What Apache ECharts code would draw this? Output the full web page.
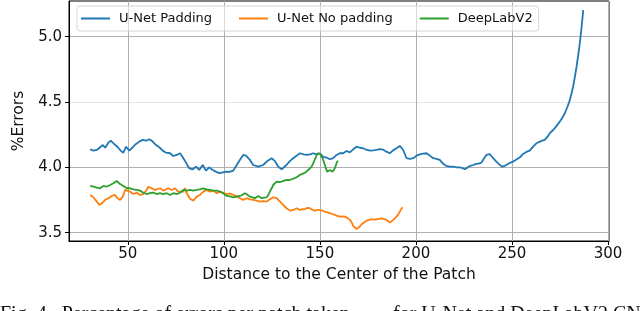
<!DOCTYPE html>
<html><head><meta charset="utf-8">
<script src="https://cdn.jsdelivr.net/npm/echarts@6/dist/echarts.min.js"></script>
<style>html,body{margin:0;padding:0;background:#fff}#c{width:640px;height:311px}</style>
</head><body><div id="c"></div>
<script>
const xTicks = [50, 100, 150, 200, 250, 300];
const yTicks = [3.5, 4.0, 4.5, 5.0];
const seriesNames = ['U-Net Padding', 'U-Net No padding', 'DeepLabV2'];
const xTitle = 'Distance to the Center of the Patch';
const yTitle = '%Errors';

const padX = [30.4,32.1,33.9,35.6,37.0,38.2,39.9,41.1,42.9,44.6,46.3,47.7,49.1,50.8,52.6,54.3,56.0,57.8,59.5,61.2,63.0,64.7,66.4,68.2,69.9,72.0,73.7,75.5,77.2,78.6,80.3,82.0,83.8,85.5,87.2,89.0,90.7,92.4,94.2,95.9,97.6,99.5,101.3,103,104.9,106.7,108.5,110.1,111.5,113.6,115.3,117.9,120.5,122.3,124.9,126.5,128.3,130.1,132.7,134.5,136.1,138,139.6,141.5,143.1,145,146.5,148.2,150,151.7,153.5,155.2,156.9,158.7,160.4,162.1,163.9,165.6,167.5,169.1,170.8,172.5,174.2,176.0,177.8,179.5,181.2,183,184.7,186.4,188.1,189.9,191.6,193.4,195.1,196.9,198.6,200.3,202.0,203.8,205.5,207.2,209.0,210.7,212.4,214,215.7,217.5,219.4,221,222.8,224.2,225.4,226.8,228.0,229.8,231.5,233,234.1,235.5,236.7,238.4,240.2,241.5,242.8,244,245.1,246.3,247.1,249,250.6,252.3,254.0,255.5,257.5,259.2,261.0,262.7,264.5,265.8,267.0,268.5,269.6,271,272.3,273.6,274.9,276.2,277.5,278.8,280.1,281.0,281.8,282.7,283.6,284.5,285.3,286.2,287.1];
const padY = [4.138,4.128,4.133,4.154,4.171,4.150,4.189,4.204,4.179,4.158,4.128,4.112,4.158,4.128,4.154,4.179,4.197,4.21,4.204,4.215,4.197,4.171,4.154,4.128,4.112,4.108,4.087,4.095,4.108,4.077,4.036,3.993,3.985,4.005,3.98,4.018,3.975,4.0,3.98,3.967,3.955,3.962,3.967,3.965,3.975,4.018,4.06,4.095,4.09,4.057,4.018,4.005,4.018,4.044,4.07,4.05,4.005,3.985,4.02,4.05,4.07,4.09,4.108,4.1,4.095,4.1,4.108,4.1,4.108,4.08,4.075,4.062,4.07,4.095,4.108,4.108,4.125,4.115,4.14,4.158,4.15,4.146,4.135,4.128,4.13,4.133,4.14,4.135,4.12,4.108,4.13,4.146,4.164,4.133,4.07,4.065,4.07,4.09,4.1,4.105,4.108,4.09,4.07,4.065,4.057,4.03,4.012,4.005,4.005,4.0,4.0,3.995,3.985,3.998,4.01,4.018,4.026,4.03,4.036,4.07,4.095,4.102,4.07,4.05,4.031,4.015,4.005,4.012,4.026,4.035,4.044,4.06,4.075,4.1,4.118,4.128,4.158,4.184,4.197,4.205,4.21,4.235,4.26,4.28,4.30,4.325,4.35,4.38,4.414,4.46,4.516,4.565,4.617,4.69,4.77,4.86,4.95,5.07,5.204];

const noPadX = [30.4,32.1,33.9,34.7,35.2,36.5,38.2,39.9,41.7,43.4,44.6,46.0,47.4,48.6,49.5,51.2,52.9,54.7,56.3,58.1,59.5,60.7,62.5,64.2,66.8,68.5,71.1,72.9,74.6,76.3,78.9,79.8,80.7,82.4,84.1,85.9,87.6,89.3,91.1,92.8,94.5,96.3,98.0,99.8,101.5,103.2,104.9,106.6,108.4,110.1,111.9,113.6,115.3,117.0,118.8,120.5,122.3,124.0,125.7,127.5,129.2,130.9,132.7,134.4,136.1,137.9,139.6,141.0,142.2,143.5,144.8,146.1,147.4,148.7,150.0,151.3,152.6,153.9,155.2,156.5,157.8,159.1,160.4,161.7,163.0,164.3,165.6,166.5,167.4,168.3,169.1,170.0,170.8,171.7,172.5,174.3,175.6,176.9,178.2,179.5,180.8,182.1,183.4,184.7,185.6,186.4,187.3,188.2,189.0,189.9,190.8,191.6,192.3,193.0];
const noPadY = [3.789,3.771,3.738,3.725,3.712,3.725,3.751,3.764,3.781,3.789,3.764,3.751,3.776,3.827,3.84,3.814,3.796,3.806,3.789,3.796,3.82,3.852,3.84,3.827,3.84,3.822,3.84,3.827,3.84,3.814,3.814,3.84,3.802,3.76,3.745,3.776,3.789,3.814,3.827,3.814,3.822,3.802,3.814,3.805,3.796,3.80,3.789,3.78,3.764,3.751,3.764,3.755,3.751,3.745,3.738,3.742,3.738,3.756,3.771,3.764,3.738,3.712,3.687,3.669,3.674,3.687,3.674,3.68,3.679,3.69,3.687,3.675,3.669,3.675,3.674,3.668,3.661,3.655,3.649,3.643,3.636,3.628,3.623,3.625,3.623,3.612,3.598,3.58,3.55,3.535,3.528,3.535,3.548,3.565,3.577,3.592,3.598,3.603,3.60,3.603,3.606,3.61,3.604,3.598,3.588,3.577,3.585,3.598,3.61,3.623,3.64,3.661,3.68,3.695];

const deepX = [30.4,32.1,33.9,35.6,37.3,39.0,40.8,42.5,44.2,46.0,47.7,49.5,51.2,52.9,54.7,56.4,58.1,59.8,61.6,63.3,65.1,66.8,68.5,70.3,72.0,73.7,75.5,77.2,78.9,80.7,82.4,84.1,85.9,87.6,89.3,91.1,92.8,94.5,96.3,98.0,99.8,101.5,103.2,104.9,106.6,108.4,109.7,111.0,112.3,113.6,114.9,116.2,117.0,117.9,118.8,119.7,121.0,122.3,123.2,124.0,124.9,125.7,126.6,127.5,128.8,130.1,131.4,132.7,134.0,135.3,136.6,137.9,138.8,139.6,140.9,142.2,143.1,143.9,144.8,145.7,146.5,147.4,148.1,148.8,149.4,150.0,150.7,151.4,152.0,152.6,153.2,153.8,154.5,155.2,155.9,156.6,157.2,157.8,158.4,159.0,159.5];
const deepY = [3.858,3.852,3.845,3.84,3.858,3.852,3.865,3.878,3.896,3.873,3.858,3.84,3.84,3.832,3.827,3.822,3.806,3.796,3.802,3.806,3.796,3.802,3.796,3.802,3.789,3.802,3.796,3.806,3.827,3.822,3.827,3.822,3.827,3.832,3.84,3.832,3.827,3.822,3.822,3.814,3.80,3.781,3.778,3.771,3.776,3.781,3.79,3.802,3.79,3.776,3.77,3.764,3.772,3.781,3.772,3.764,3.768,3.771,3.79,3.814,3.84,3.865,3.88,3.891,3.888,3.891,3.898,3.904,3.902,3.909,3.916,3.924,3.935,3.942,3.95,3.959,3.97,3.98,3.99,4.005,4.03,4.062,4.085,4.108,4.11,4.103,4.09,4.07,4.045,4.018,3.99,3.967,3.972,3.98,3.97,3.967,3.98,3.993,4.02,4.044,4.05];

const colors = ['#1f77b4', '#ff7f0e', '#2ca02c'];
const font = 'DejaVu Sans';
const zip = (xs, ys) => xs.map((x, i) => [x, ys[i]]);

const chart = echarts.init(document.getElementById('c'), null, {renderer: 'canvas'});
chart.setOption({
  animation: false,
  backgroundColor: '#fff',
  grid: {left: 69, right: 31, top: 1, bottom: 70, show: true, borderColor: '#000', borderWidth: 1, backgroundColor: 'transparent'},
  legend: {
    left: 77, top: 6, orient: 'horizontal',
    itemWidth: 33, itemHeight: 2, itemGap: 27,
    icon: 'path://M0,0H29V2H0Z M33,0L33,2',
    padding: [6, 6, 6, 4],
    backgroundColor: 'rgba(255,255,255,0.5)', borderColor: '#d4d4d4', borderWidth: 1, borderRadius: 3,
    textStyle: {fontFamily: font, fontSize: 13, color: '#111'},
    data: seriesNames
  },
  xAxis: {
    type: 'value', min: 19.4, max: 300.5,
    name: xTitle, nameLocation: 'middle', nameGap: 17,
    nameTextStyle: {fontFamily: font, fontSize: 15.5, color: '#111'},
    axisLine: {show: true, lineStyle: {color: '#000', width: 1}},
    axisTick: {show: true, length: 4, customValues: xTicks, lineStyle: {color: '#000'}},
    axisLabel: {customValues: xTicks, margin: 6, fontFamily: font, fontSize: 15, color: '#111', formatter: v => String(v)},
    splitLine: {show: true, lineStyle: {color: '#b0b0b0', width: 1}}
  },
  yAxis: {
    type: 'value', min: 3.4365, max: 5.273,
    name: yTitle, nameLocation: 'middle', nameGap: 39,
    nameTextStyle: {fontFamily: font, fontSize: 15.5, color: '#111'},
    axisLine: {show: true, lineStyle: {color: '#000', width: 1}},
    axisTick: {show: true, length: 4, customValues: yTicks, lineStyle: {color: '#000'}},
    axisLabel: {customValues: yTicks, margin: 7, fontFamily: font, fontSize: 15, color: '#111', formatter: v => v.toFixed(1)},
    splitLine: {show: true, lineStyle: {color: ['#b0b0b0', '#b0b0b0', '#e6e6e6', '#b0b0b0'], width: 1}}
  },
  series: [
    {name: seriesNames[0], type: 'line', data: zip(padX, padY), showSymbol: false, lineStyle: {width: 1.8, color: colors[0]}, itemStyle: {color: colors[0]}, z: 3},
    {name: seriesNames[1], type: 'line', data: zip(noPadX, noPadY), showSymbol: false, lineStyle: {width: 1.8, color: colors[1]}, itemStyle: {color: colors[1]}, z: 4},
    {name: seriesNames[2], type: 'line', data: zip(deepX, deepY), showSymbol: false, lineStyle: {width: 1.8, color: colors[2]}, itemStyle: {color: colors[2]}, z: 5}
  ],
  graphic: [
    {type: 'text', left: 0, top: 305, style: {text: 'Fig. 4.  Percentage of errors per patch taken', font: '20px "Liberation Serif"', fill: '#111'}},
    {type: 'text', left: 393, top: 305, style: {text: 'for U-Net and DeepLabV2 CNN', font: '20px "Liberation Serif"', fill: '#111'}}
  ]
});
</script></body></html>
